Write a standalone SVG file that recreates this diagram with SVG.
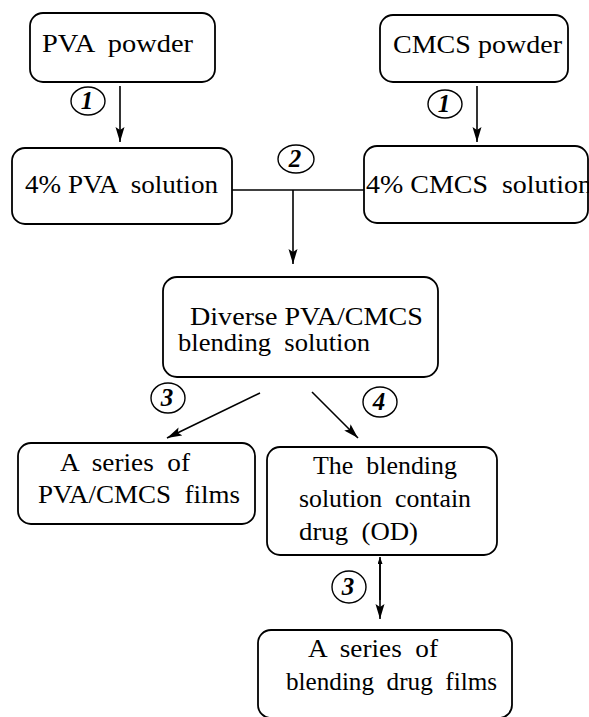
<svg xmlns="http://www.w3.org/2000/svg" width="589" height="717" viewBox="0 0 589 717">
<defs>
<marker id="ah" markerUnits="userSpaceOnUse" markerWidth="16" markerHeight="10" refX="15" refY="4.5" orient="auto">
<path d="M0,0 L15,4.5 L0,9 L3,4.5 z" fill="#000"/>
</marker>
<marker id="ahs" markerUnits="userSpaceOnUse" markerWidth="8" markerHeight="6" refX="7" refY="2.5" orient="auto">
<path d="M0,0 L7,2.5 L0,5 z" fill="#000"/>
</marker>
</defs>
<style>
.box{fill:#fff;stroke:#000;stroke-width:1.8}
.t{font-size:26px;fill:#000;white-space:pre}
.c{fill:none;stroke:#000;stroke-width:1.4}
.n{font-size:25px;font-weight:bold;font-style:italic;fill:#000;text-anchor:middle}
.ln{fill:none;stroke:#000;stroke-width:1.6}
</style>
<rect width="589" height="717" fill="#fff"/>
<g font-family="Liberation Serif, DejaVu Serif, Tinos, Times New Roman, serif">
<g id="connectors">
<line class="ln" x1="120" y1="86" x2="120" y2="142" marker-end="url(#ah)"/>
<line class="ln" x1="477" y1="86" x2="477" y2="142" marker-end="url(#ah)"/>
<line class="ln" x1="232" y1="190" x2="364" y2="190"/>
<line class="ln" x1="293" y1="190" x2="293" y2="264" marker-end="url(#ah)"/>
<line class="ln" x1="260" y1="393" x2="167" y2="438" marker-end="url(#ah)"/>
<line class="ln" x1="312" y1="392" x2="358" y2="438" marker-end="url(#ah)"/>
<line class="ln" x1="380" y1="600" x2="380" y2="557" marker-end="url(#ahs)"/>
<line class="ln" x1="380" y1="560" x2="380" y2="619" marker-end="url(#ah)"/>
<g id="lbl1a"><ellipse class="c" cx="88" cy="101" rx="17" ry="14"/><text class="n" x="87" y="109">1</text></g>
<g id="lbl1b"><ellipse class="c" cx="445" cy="104" rx="17" ry="14"/><text class="n" x="444" y="112">1</text></g>
<g id="lbl2"><ellipse class="c" cx="296" cy="159" rx="18" ry="14"/><text class="n" x="295" y="167">2</text></g>
<g id="lbl3a"><ellipse class="c" cx="168" cy="398" rx="17" ry="15"/><text class="n" x="167" y="406">3</text></g>
<g id="lbl4"><ellipse class="c" cx="380" cy="402" rx="17" ry="15"/><text class="n" x="379" y="410">4</text></g>
<g id="lbl3b"><ellipse class="c" cx="349" cy="587" rx="17" ry="16"/><text class="n" x="348" y="595">3</text></g>
</g>
<g id="pva-powder">
<rect class="box" x="30" y="13" width="185" height="69" rx="13"/>
<text class="t" x="42" y="52" textLength="151" lengthAdjust="spacingAndGlyphs" xml:space="preserve">PVA  powder</text>
</g>
<g id="cmcs-powder">
<rect class="box" x="380" y="15" width="188" height="67" rx="13"/>
<text class="t" x="393" y="53" textLength="169" lengthAdjust="spacingAndGlyphs">CMCS powder</text>
</g>
<g id="pva-solution">
<rect class="box" x="12" y="148" width="220" height="76" rx="13"/>
<text class="t" x="25" y="193" textLength="193" lengthAdjust="spacingAndGlyphs" xml:space="preserve">4% PVA  solution</text>
</g>
<g id="cmcs-solution">
<rect class="box" x="364" y="146" width="224" height="77" rx="13"/>
<text class="t" x="366" y="193" textLength="226" lengthAdjust="spacingAndGlyphs" xml:space="preserve">4% CMCS  solution</text>
</g>
<g id="blend-solution">
<rect class="box" x="163" y="277" width="275" height="100" rx="14"/>
<text class="t" x="190" y="325" textLength="233" lengthAdjust="spacingAndGlyphs">Diverse PVA/CMCS</text>
<text class="t" x="178" y="351" textLength="192" lengthAdjust="spacingAndGlyphs" xml:space="preserve">blending  solution</text>
</g>
<g id="films">
<rect class="box" x="18" y="443" width="237" height="81" rx="13"/>
<text class="t" x="60" y="471" textLength="130" lengthAdjust="spacingAndGlyphs" xml:space="preserve">A  series  of</text>
<text class="t" x="38" y="503" textLength="202" lengthAdjust="spacingAndGlyphs" xml:space="preserve">PVA/CMCS  films</text>
</g>
<g id="drug-solution">
<rect class="box" x="267" y="447" width="230" height="108" rx="13"/>
<text class="t" x="313" y="474" textLength="144" lengthAdjust="spacingAndGlyphs" xml:space="preserve">The  blending</text>
<text class="t" x="299" y="507" textLength="172" lengthAdjust="spacingAndGlyphs" xml:space="preserve">solution  contain</text>
<text class="t" x="299" y="540" textLength="119" lengthAdjust="spacingAndGlyphs" xml:space="preserve">drug  (OD)</text>
</g>
<g id="drug-films">
<rect class="box" x="258" y="630" width="254" height="88" rx="13"/>
<text class="t" x="308" y="657" textLength="130" lengthAdjust="spacingAndGlyphs" xml:space="preserve">A  series  of</text>
<text class="t" x="286" y="690" textLength="211" lengthAdjust="spacingAndGlyphs" xml:space="preserve">blending  drug  films</text>
</g>
</g>
</svg>
